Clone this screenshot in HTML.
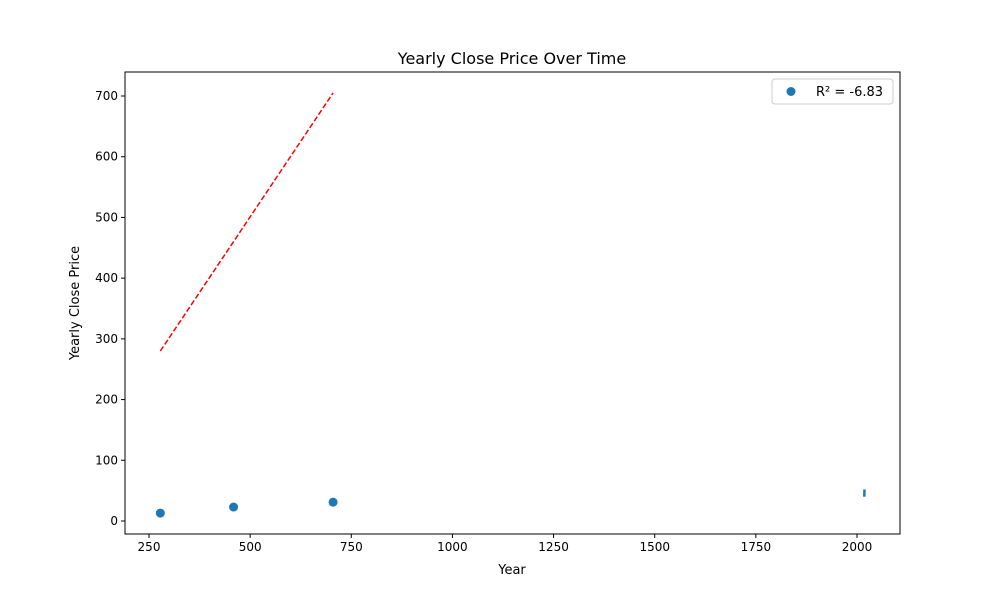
<!DOCTYPE html>
<html><head><meta charset="utf-8"><style>
body{margin:0;background:#fff;font-family:"Liberation Sans","DejaVu Sans",sans-serif;}
svg text{font-family:"DejaVu Sans","Liberation Sans",sans-serif;}
</style></head><body>
<svg width="1000" height="600" xmlns="http://www.w3.org/2000/svg">
<rect width="1000" height="600" fill="#fff"/>
<g id="g"></g>
</svg>
<script>
const xTicks=[250,500,750,1000,1250,1500,1750,2000];
const yTicks=[0,100,200,300,400,500,600,700];
const pointX=[278,459,705];
const pointY=[13,23,31];
const fitX=[278,705];
const fitY=[280,705];
const lineX=[2018,2018.5];
const lineY=[40,52];
const L=125,R=900,T=72,B=534;
const sx=v=>149+(v-250)*(857-149)/1750;
const sy=v=>521-v*(521-96)/700;
const NS='http://www.w3.org/2000/svg';
const g=document.getElementById('g');
function mk(t,a,txt){const e=document.createElementNS(NS,t);for(const k in a)e.setAttribute(k,a[k]);if(txt!==undefined)e.textContent=txt;g.appendChild(e);return e;}
let e=mk('line',{x1:sx(fitX[0]),y1:sy(fitY[0]),x2:sx(fitX[1]),y2:sy(fitY[1]),stroke:'red','stroke-width':1.5,'stroke-dasharray':'5.5,2.4'});


e=mk('polyline',{points:lineX.map((x,i)=>sx(x)+','+sy(lineY[i])).join(' '),stroke:'#1f77b4','stroke-width':2.5,fill:'none'});


pointX.forEach((x,i)=>{const c=mk('circle',{cx:sx(x),cy:sy(pointY[i]),r:4.5,fill:'#1f77b4'});

});
e=mk('rect',{x:L,y:T,width:R-L,height:B-T,fill:'none',stroke:'#000','stroke-width':1});


xTicks.forEach(v=>{const x=sx(v);mk('line',{x1:x,y1:B,x2:x,y2:B+4,stroke:'#000'});
const t=mk('text',{x:x,y:B+17,'font-size':12,'text-anchor':'middle'},v);

});
yTicks.forEach(v=>{const y=sy(v);mk('line',{x1:L,y1:y,x2:L-4,y2:y,stroke:'#000'});
const t=mk('text',{x:L-7,y:y+4,'font-size':12,'text-anchor':'end'},v);

});
e=mk('text',{x:512,y:64,'font-size':16,'text-anchor':'middle'},'Yearly Close Price Over Time');


e=mk('text',{x:512,y:574,'font-size':13,'text-anchor':'middle'},'Year');


e=mk('text',{x:79,y:303,'font-size':13,'text-anchor':'middle',transform:'rotate(-90 79 303)'},'Yearly Close Price');


e=mk('rect',{x:772,y:79,width:121,height:25,rx:3,fill:'#fff',stroke:'#ccc'});


mk('circle',{cx:791,cy:91.5,r:4.5,fill:'#1f77b4'});
e=mk('text',{x:816,y:96,'font-size':13},'R² = -6.83');


</script>
</body></html>
